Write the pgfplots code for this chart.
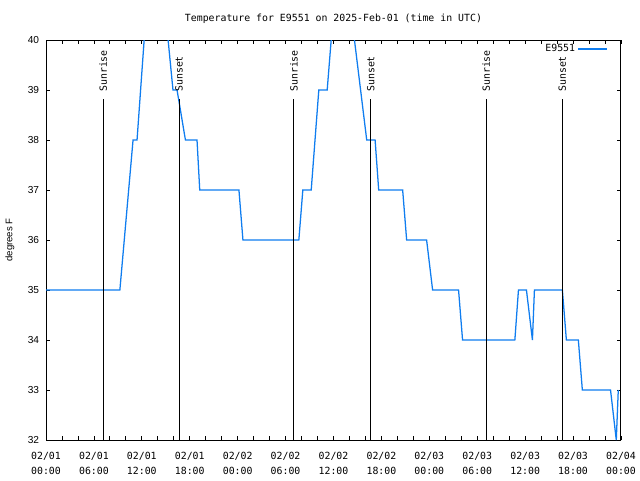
\documentclass[border=0pt]{standalone}
\usepackage{fontspec}
\setmainfont{Liberation Sans}
\newfontfamily\monofont{DejaVu Sans Mono}
\usepackage{pgfplots}
\pgfplotsset{compat=1.18}
\definecolor{tline}{RGB}{15,125,240}
\begin{document}
\begin{tikzpicture}
\fill[white] (0,0) rectangle (480pt,360pt);
\node[font=\fontsize{7.4}{9}\selectfont\monofont, anchor=center, inner sep=0pt] at (250.1pt,345.75pt) {Temperature for E9551 on 2025-Feb-01 (time in UTC)};
\node[rotate=90, font=\fontsize{7.2}{8}\selectfont, anchor=center, inner sep=0pt] at (7.5pt,180pt) {degrees F};
\begin{axis}[
  at={(34.5pt,30pt)}, anchor=south west, scale only axis,
  width=431.25pt, height=300pt,
  xmin=0, xmax=72, ymin=32, ymax=40,
  axis line style={line width=0.75pt, black},
  tick align=inside,
  major tick length=3pt, minor tick length=3pt,
  tick style={black, line width=0.6pt},
  xtick={0,6,...,72},
  minor xtick={0,2,...,72},
  xticklabels={{02/01\\00:00},{02/01\\06:00},{02/01\\12:00},{02/01\\18:00},{02/02\\00:00},{02/02\\06:00},{02/02\\12:00},{02/02\\18:00},{02/03\\00:00},{02/03\\06:00},{02/03\\12:00},{02/03\\18:00},{02/04\\00:00}},
  xticklabel style={align=center, font=\fontsize{7.4}{11.25}\selectfont\monofont, anchor=north, inner sep=0pt, yshift=-9pt},
  ytick={32,33,...,40},
  /pgf/number format/assume math mode=true,
  yticklabel style={font=\fontsize{7.6}{9}\selectfont, anchor=east, inner sep=0pt, xshift=-5pt},
  legend plot pos=right,
  legend cell align=right,
  legend image code/.code={\draw[#1] (0pt,0pt) -- (21.75pt,0pt);},
  legend style={draw=none, fill=none, font=\fontsize{7.4}{9}\selectfont\monofont,
    at={(axis description cs:1,1)}, anchor=north east, xshift=-6.5pt, yshift=1pt},
]
\addplot[tline, line width=0.95pt] coordinates {
(0,35) (9.25,35) (10.9,38) (11.4,38) (12.29,40) (12.75,41) (14.6,41) (15.29,40)
(15.9,39) (16.41,39) (17.46,38) (18.91,38) (19.25,37) (24.16,37) (24.66,36)
(31.66,36) (32.16,37) (33.21,37) (34.16,39) (35.21,39) (35.71,40) (36.21,41)
(37.875,41) (38.625,40) (40.16,38) (41.21,38) (41.66,37) (44.66,37) (45.16,36)
(47.66,36) (48.41,35) (51.66,35) (52.16,34) (58.71,34) (59.16,35) (60.16,35)
(60.91,34) (61.16,35) (64.66,35) (65.16,34) (66.66,34) (67.16,33) (70.69,33)
(71.41,32) (71.66,33)
};
\addlegendentry{E9551}
\addplot[black, line width=0.8pt, forget plot] coordinates {(7.17,32) (7.17,38.82)};
\addplot[black, line width=0.8pt, forget plot] coordinates {(16.67,32) (16.67,38.82)};
\addplot[black, line width=0.8pt, forget plot] coordinates {(31.04,32) (31.04,38.82)};
\addplot[black, line width=0.8pt, forget plot] coordinates {(40.67,32) (40.67,38.82)};
\addplot[black, line width=0.8pt, forget plot] coordinates {(55.12,32) (55.12,38.82)};
\addplot[black, line width=0.8pt, forget plot] coordinates {(64.65,32) (64.65,38.82)};
\node[rotate=90, anchor=west, inner sep=0pt, font=\fontsize{7.4}{9}\selectfont\monofont] at (axis cs:7.17,38.96) {Sunrise};
\node[rotate=90, anchor=west, inner sep=0pt, font=\fontsize{7.4}{9}\selectfont\monofont] at (axis cs:16.67,38.96) {Sunset};
\node[rotate=90, anchor=west, inner sep=0pt, font=\fontsize{7.4}{9}\selectfont\monofont] at (axis cs:31.04,38.96) {Sunrise};
\node[rotate=90, anchor=west, inner sep=0pt, font=\fontsize{7.4}{9}\selectfont\monofont] at (axis cs:40.67,38.96) {Sunset};
\node[rotate=90, anchor=west, inner sep=0pt, font=\fontsize{7.4}{9}\selectfont\monofont] at (axis cs:55.12,38.96) {Sunrise};
\node[rotate=90, anchor=west, inner sep=0pt, font=\fontsize{7.4}{9}\selectfont\monofont] at (axis cs:64.65,38.96) {Sunset};
\end{axis}
\end{tikzpicture}
\end{document}
